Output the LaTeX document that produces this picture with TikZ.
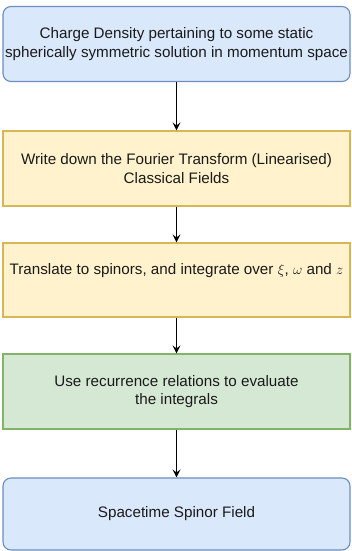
\documentclass[tikz,border=0pt]{standalone}
\usepackage{fontspec}
\setmainfont{Liberation Sans}
\usetikzlibrary{arrows.meta}
\definecolor{blueFill}{HTML}{DAE8FC}
\definecolor{blueLine}{HTML}{6C8EBF}
\definecolor{yellowFill}{HTML}{FFF2CC}
\definecolor{yellowLine}{HTML}{D6B656}
\definecolor{greenFill}{HTML}{D5E8D4}
\definecolor{greenLine}{HTML}{82B366}
\definecolor{txt}{HTML}{1A1A1A}
\tikzset{
  x=1pt, y=-1pt,
  box/.style={draw, line width=1.1pt, minimum width=347pt, minimum height=75pt,
    align=center, text=txt, font=\fontsize{15.2}{18.5}\selectfont, inner sep=0pt},
  roundbox/.style={box, rounded corners=8pt, fill=blueFill, draw=blueLine},
  yellowbox/.style={box, fill=yellowFill, draw=yellowLine},
  greenbox/.style={box, fill=greenFill, draw=greenLine},
  flow/.style={-{Stealth[length=8pt,width=8pt,inset=3pt]}, line width=1pt, black}
}
\begin{document}
\begin{tikzpicture}
\useasboundingbox (0,0) rectangle (351,551);
\node[roundbox] (charge) at (176.5,44) {Charge Density pertaining to some static\\spherically symmetric solution in momentum space};
\node[yellowbox] (fourier) at (176.5,168.5) {Write down the Fourier Transform (Linearised)\\Classical Fields};
\node[yellowbox, minimum height=74pt] (spinor) at (176.5,280) {};
\node[text=txt, font=\fontsize{15.2}{18.5}\selectfont] (spinortext) at (176.5,271) {Translate to spinors, and integrate over $\xi$, $\omega$ and $z$};
\node[greenbox] (recur) at (176.5,391.5) {Use recurrence relations to evaluate\\the integrals};
\node[roundbox, minimum height=72pt] (field) at (176.5,514) {Spacetime Spinor Field};
\draw[flow] (charge) -- (fourier);
\draw[flow] (fourier) -- (spinor);
\draw[flow] (spinor) -- (recur);
\draw[flow] (recur) -- (field);
\end{tikzpicture}
\end{document}
